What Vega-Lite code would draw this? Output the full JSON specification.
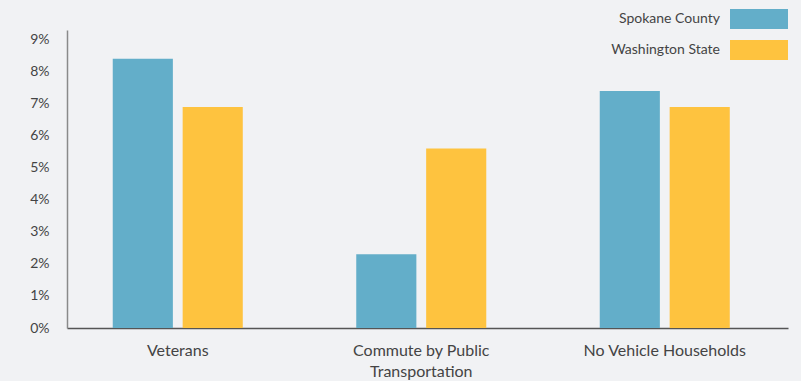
{
  "$schema": "https://vega.github.io/schema/vega-lite/v6.json",
  "width": 721,
  "height": 298,
  "autosize": "none",
  "padding": {"left": 67, "top": 30, "right": 13, "bottom": 53},
  "background": "#f1f2f4",
  "data": {
    "values": [
      {"category": "Veterans", "region": "Spokane County", "value": 0.084},
      {"category": "Veterans", "region": "Washington State", "value": 0.069},
      {"category": "Commute by Public Transportation", "region": "Spokane County", "value": 0.023},
      {"category": "Commute by Public Transportation", "region": "Washington State", "value": 0.056},
      {"category": "No Vehicle Households", "region": "Spokane County", "value": 0.074},
      {"category": "No Vehicle Households", "region": "Washington State", "value": 0.069}
    ]
  },
  "mark": {"type": "bar"},
  "encoding": {
    "x": {
      "field": "category",
      "type": "nominal",
      "sort": null,
      "scale": {"paddingInner": 0.466, "paddingOuter": 0.2135, "align": 0.44},
      "axis": {
        "title": null,
        "labelAngle": 0,
        "ticks": false,
        "domainColor": "#555555",
        "domainWidth": 1.5,
        "labelPadding": 14,
        "labelFont": "Lato",
        "labelFontSize": 16,
        "labelColor": "#444444",
        "labelLineHeight": 21,
        "labelExpr": "datum.label == 'Commute by Public Transportation' ? ['Commute by Public', 'Transportation'] : datum.label"
      }
    },
    "xOffset": {
      "field": "region",
      "type": "nominal",
      "sort": ["Spokane County", "Washington State"],
      "scale": {"paddingInner": 0.14, "paddingOuter": 0}
    },
    "y": {
      "field": "value",
      "type": "quantitative",
      "scale": {"domain": [0, 0.093], "nice": false},
      "axis": {
        "title": null,
        "format": ".0%",
        "values": [0, 0.01, 0.02, 0.03, 0.04, 0.05, 0.06, 0.07, 0.08, 0.09],
        "grid": false,
        "ticks": false,
        "domainColor": "#8a8a8a",
        "domainWidth": 1.5,
        "labelPadding": 18,
        "labelFont": "Lato",
        "labelFontSize": 14,
        "labelColor": "#444444"
      }
    },
    "color": {
      "field": "region",
      "type": "nominal",
      "sort": ["Spokane County", "Washington State"],
      "scale": {"domain": ["Spokane County", "Washington State"], "range": ["#63aec9", "#fec33f"]},
      "legend": {
        "title": null,
        "orient": "none",
        "legendX": 682,
        "legendY": -21,
        "padding": 0,
        "symbolType": "M-2.9,-1H2.9V1H-2.9Z",
        "symbolSize": 400,
        "symbolStrokeWidth": 0,
        "symbolOpacity": 1,
        "rowPadding": 11,
        "labelAlign": "right",
        "labelOffset": -49,
        "labelFont": "Lato",
        "labelFontSize": 14,
        "labelColor": "#444444",
        "labelLimit": 300
      }
    }
  },
  "config": {
    "view": {"stroke": null}
  }
}
